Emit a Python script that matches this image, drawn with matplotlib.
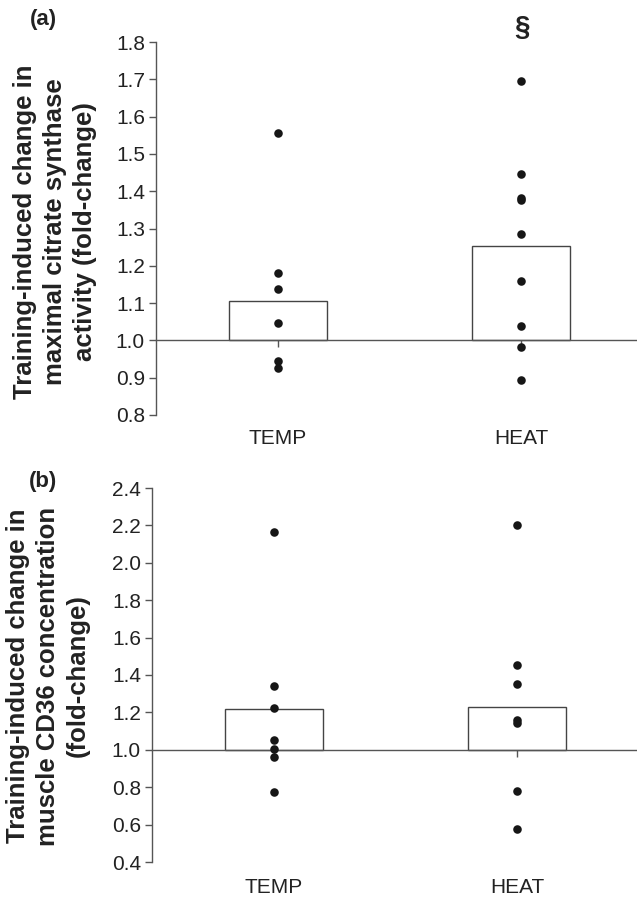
import numpy as np
import matplotlib; matplotlib.use("Agg")
import matplotlib.pyplot as plt
import matplotlib.transforms as mtransforms
matplotlib.rcParams.update({"font.family": "sans-serif",
                            "font.sans-serif": ["Liberation Sans", "Arial", "DejaVu Sans"]})

groups = ["TEMP", "HEAT"]

# (a) citrate synthase activity, fold-change
cs_means = [1.105, 1.252]
cs_temp = [1.555, 1.182, 1.137, 1.046, 0.945, 0.925]
cs_heat = [1.695, 1.447, 1.381, 1.376, 1.285, 1.160, 1.038, 0.983, 0.893]
cs_ticks = [0.8, 0.9, 1.0, 1.1, 1.2, 1.3, 1.4, 1.5, 1.6, 1.7, 1.8]

# (b) CD36 concentration, fold-change
cd_means = [1.218, 1.229]
cd_temp = [2.163, 1.342, 1.225, 1.055, 1.002, 0.961, 0.773]
cd_heat = [2.204, 1.452, 1.352, 1.160, 1.143, 0.779, 0.575]
cd_ticks = [0.4, 0.6, 0.8, 1.0, 1.2, 1.4, 1.6, 1.8, 2.0, 2.2, 2.4]

W, H = 637, 898
GREY = "#555555"
fig = plt.figure(figsize=(W / 100, H / 100), dpi=100)


def panel(rect, means, pts, ticks, xlim, ylabel, lab_xy, letter_xy, letter, xlab_y):
    ax = fig.add_axes(rect)
    x = np.arange(len(groups))
    ax.bar(x, np.array(means) - 1.0, bottom=1.0, width=0.4, color="white",
           edgecolor="#444444", linewidth=1.0, zorder=2)
    for i, p in enumerate(pts):
        ax.scatter(np.full(len(p), x[i]), p, s=38, color="#161616", zorder=3, linewidths=0)
    ax.set_xlim(*xlim); ax.set_ylim(ticks[0], ticks[-1])
    ax.set_yticks(ticks); ax.set_yticklabels([f"{t:.1f}" for t in ticks], fontsize=15, color="#222222")
    for s in ["top", "right"]: ax.spines[s].set_visible(False)
    ax.spines["left"].set_color(GREY); ax.spines["left"].set_linewidth(1.0)
    ax.spines["bottom"].set_position(("data", 1.0))
    ax.spines["bottom"].set_color(GREY); ax.spines["bottom"].set_linewidth(1.0)
    ax.set_xticks(x); ax.set_xticklabels([])
    ax.tick_params(axis="y", direction="out", length=5, width=1.0, color=GREY, pad=3)
    ax.tick_params(axis="x", direction="out", length=5, width=1.0, color=GREY)
    tr = mtransforms.blended_transform_factory(ax.transData, ax.transAxes)
    for i, g in enumerate(groups):
        ax.text(x[i], xlab_y, g, transform=tr, ha="center", va="center", fontsize=15, color="#222222")
    fig.text(lab_xy[0] / W, 1 - lab_xy[1] / H, ylabel, rotation=90, ha="center", va="center",
             multialignment="center", fontsize=18.5, fontweight="bold", color="#222222", linespacing=1.3)
    fig.text(letter_xy[0] / W, 1 - letter_xy[1] / H, letter, ha="center", va="center",
             fontsize=16, fontweight="bold", color="#222222")
    return ax


panel([156 / W, 1 - 415 / H, 1 - 156 / W, (415 - 42) / H], cs_means, [cs_temp, cs_heat], cs_ticks,
      (-0.502, 1.477), "Training-induced change in\nmaximal citrate synthase\nactivity (fold-change)",
      (55, 232), (43, 20), "(a)", -0.062)
fig.text(522 / W, 1 - 28 / H, "§", ha="center", va="center", fontsize=20, fontweight="bold", color="#222222")

panel([152 / W, 1 - 862 / H, 1 - 152 / W, (862 - 488) / H], cd_means, [cd_temp, cd_heat], cd_ticks,
      (-0.502, 1.494), "Training-induced change in\nmuscle CD36 concentration\n(fold-change)",
      (48, 676), (43, 482), "(b)", -0.067)

fig.savefig("out.png", dpi=100)
